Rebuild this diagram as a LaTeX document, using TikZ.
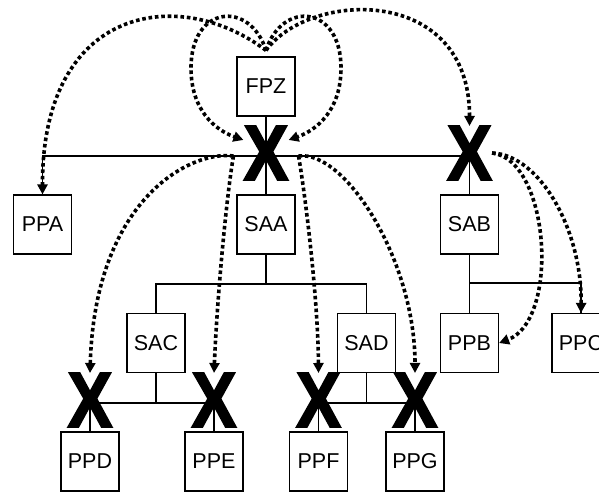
\documentclass[tikz,border=0pt]{standalone}
\usepackage{fontspec}
\setmainfont{Liberation Sans}
\newfontfamily\crossfont[FakeBold=2.5]{Liberation Sans Bold}
\usetikzlibrary{arrows.meta}

\tikzset{
	unit box/.style={draw, line width=1.2pt, minimum width=58pt, minimum height=59pt, inner sep=0pt,
		font=\fontsize{21.5}{24}\selectfont},
	cross mark/.style={inner sep=0pt, font=\crossfont\fontsize{78}{78}\selectfont},
	tree line/.style={line width=1.2pt},
	flow/.style={line width=3.6pt, dash pattern=on 3.6pt off 2.8pt, -{Triangle[length=10pt,width=10pt]}}
}

\begin{document}
\begin{tikzpicture}[x=1pt, y=-1pt]
		\useasboundingbox (0,0) rectangle (599,491);
		\clip (0,0) rectangle (599,491);
		% units
		\node[unit box] (FPZ) at (266,86.5) {FPZ};
		\node[unit box] (PPA) at (42.5,224.5) {PPA};
		\node[unit box] (SAA) at (266,224.5) {SAA};
		\node[unit box] (SAB) at (469.5,224.5) {SAB};
		\node[unit box] (SAC) at (156,343) {SAC};
		\node[unit box] (SAD) at (366.5,343) {SAD};
		\node[unit box] (PPB) at (469.5,343) {PPB};
		\node[unit box] (PPC) at (581,343) {PPC};
		\foreach \name/\x in {PPD/90, PPE/214, PPF/318.5, PPG/415}
			\node[unit box] (\name) at (\x,461.5) {\name};
		% tree
		\coordinate (hubM) at (266,156);
		\coordinate (hubR) at (469.5,156);
		\coordinate (splitA) at (266,284);
		\coordinate (splitB) at (469.5,283);
		\coordinate (splitC) at (156,403);
		\coordinate (splitD) at (366.5,403);
		\draw[tree line] (FPZ) -- (SAA);
		\draw[tree line] (PPA) |- (hubR) -- (SAB);
		\draw[tree line] (SAA) -- (splitA);
		\draw[tree line] (SAC) |- (splitA) -| (SAD);
		\draw[tree line] (SAB) -- (PPB);
		\draw[tree line] (splitB) -| (PPC);
		\draw[tree line] (SAC) -- (splitC);
		\draw[tree line] (PPD) |- (splitC) -| (PPE);
		\draw[tree line] (SAD) -- (splitD);
		\draw[tree line] (PPF) |- (splitD) -| (PPG);
		% crossings
		\node[cross mark, yshift=3pt] (crossM) at (hubM) {\scalebox{0.86}[1]{X}};
		\node[cross mark, yshift=3pt] (crossR) at (hubR) {\scalebox{0.86}[1]{X}};
		\foreach \name in {PPD, PPE, PPF, PPG}
			\node[cross mark, yshift=3pt] (cross\name) at (\name.north |- splitC) {\scalebox{0.86}[1]{X}};
		% flows from FPZ
		\draw[flow] ([yshift=6pt]FPZ.north) .. controls (180,-15) and (42,5) .. (PPA.north);
		\draw[flow] ([yshift=6pt]FPZ.north) .. controls (250,0) and (191,5) .. (191,68)
			.. controls (191,110) and (215,130) .. (crossM.150);
		\draw[flow] ([yshift=6pt]FPZ.north) .. controls (282,0) and (341,5) .. (341,68)
			.. controls (341,110) and (317,130) .. (crossM.30);
		\draw[flow] ([yshift=6pt]FPZ.north) .. controls (310,-10) and (470,-15) .. (crossR.north);
		% flows from the crossings
		\draw[flow] ([shift={(-10pt,-3pt)}]crossM.west) .. controls (190,150) and (95,200) .. (crossPPD.north);
		\draw[flow] ([shift={(-10pt,-3pt)}]crossM.west) .. controls (226,200) and (217,300) .. (crossPPE.north);
		\draw[flow] ([shift={(10pt,-3pt)}]crossM.east) .. controls (306,200) and (318,300) .. (crossPPF.north);
		\draw[flow] ([shift={(10pt,-3pt)}]crossM.east) .. controls (345,150) and (415,260) .. (crossPPG.north);
		\draw[flow] (crossR.east) .. controls (550,160) and (560,320) .. (PPB.east);
		\draw[flow] (crossR.east) .. controls (540,155) and (582,230) .. (PPC.north);
\end{tikzpicture}
\end{document}
